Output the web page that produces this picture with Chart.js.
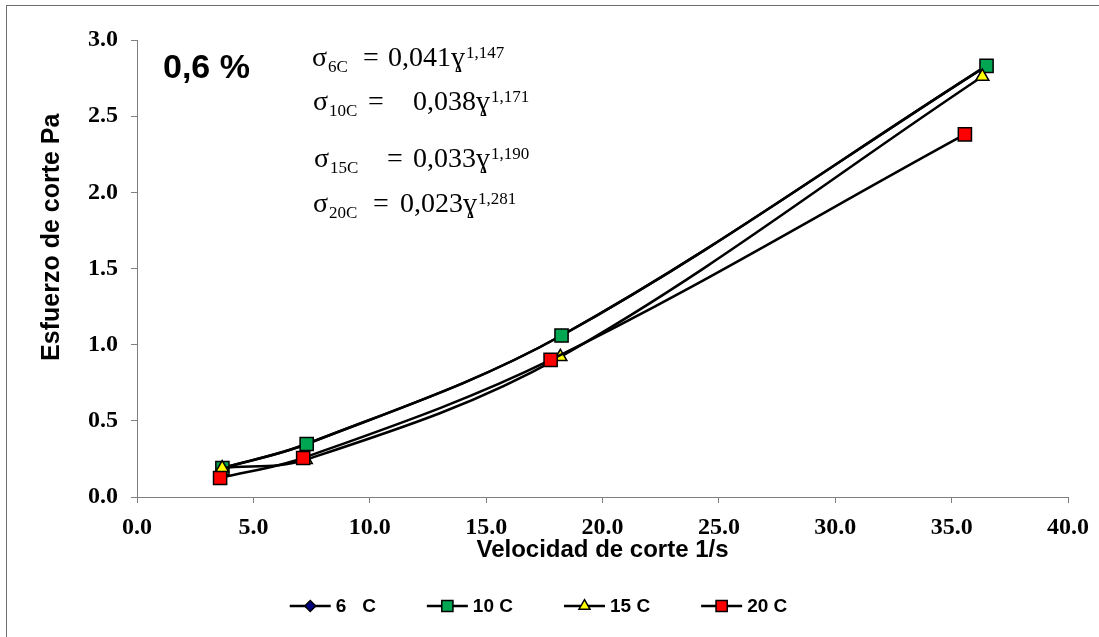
<!DOCTYPE html>
<html>
<head>
<meta charset="utf-8">
<script src="https://cdn.jsdelivr.net/npm/chart.js@4.4.1/dist/chart.umd.min.js"></script>
<style>
  html, body { margin: 0; padding: 0; background: #fff; }
  canvas { display: block; }
</style>
</head>
<body>
<canvas id="grafico" width="1099" height="637"></canvas>
<script>
// valores: velocidad de corte (1/s) y esfuerzo de corte (Pa)
const series = ['6   C', '10 C', '15 C', '20 C'];
const vel6  = [3.67, 7.29, 18.24, 36.5];
const esf6  = [0.19, 0.348, 1.06, 2.83];
const vel10 = [3.67, 7.29, 18.24, 36.5];
const esf10 = [0.19, 0.348, 1.06, 2.83];
const vel15 = [3.66, 7.25, 18.19, 36.32];
const esf15 = [0.19, 0.245, 0.92, 2.76];
const vel20 = [3.57, 7.14, 17.77, 35.57];
const esf20 = [0.125, 0.256, 0.90, 2.38];

const ticksX = [0, 5, 10, 15, 20, 25, 30, 35, 40];
const ticksY = [0, 0.5, 1, 1.5, 2, 2.5, 3];

// ecuaciones de ajuste (potencia)
const ecSub  = ['6C', '10C', '15C', '20C'];
const ecCoef = ['0,041', '0,038', '0,033', '0,023'];
const ecExp  = ['1,147', '1,171', '1,190', '1,281'];
const concentracion = '0,6 %';

const serif = '"Liberation Serif", "DejaVu Serif", serif';
const sans = '"Liberation Sans", Arial, sans-serif';

function serie(label, xs, ys, color, forma, radio, orden) {
  return {
    label: label,
    data: xs.map((x, i) => ({ x: x, y: ys[i] })),
    showLine: true,
    tension: 0.35,
    borderColor: '#000',
    borderWidth: 2.5,
    backgroundColor: color,
    pointStyle: forma,
    pointRadius: radio,
    pointHoverRadius: radio,
    pointBackgroundColor: color,
    pointBorderColor: '#000',
    pointBorderWidth: 1.5,
    order: orden
  };
}

function marcador(ctx, forma, cx, cy, r, color) {
  ctx.beginPath();
  if (forma === 'rect') {
    const s = r * Math.SQRT1_2;
    ctx.rect(cx - s, cy - s, 2 * s, 2 * s);
  } else if (forma === 'triangle') {
    for (let k = 0; k < 3; k++) {
      const a = k * 2 * Math.PI / 3;
      const px = cx + Math.sin(a) * r, py = cy - Math.cos(a) * r;
      k ? ctx.lineTo(px, py) : ctx.moveTo(px, py);
    }
  } else {
    ctx.moveTo(cx, cy - r); ctx.lineTo(cx + r, cy);
    ctx.lineTo(cx, cy + r); ctx.lineTo(cx - r, cy);
  }
  ctx.closePath();
  ctx.fillStyle = color;
  ctx.fill();
  ctx.lineWidth = 1.5;
  ctx.strokeStyle = '#000';
  ctx.stroke();
}

// marco exterior (solo se ven los bordes izquierdo y superior)
const marco = {
  id: 'marco',
  beforeDraw(chart) {
    const { ctx, width, height } = chart;
    ctx.save();
    ctx.fillStyle = '#fff';
    ctx.fillRect(0, 0, width, height);
    ctx.strokeStyle = '#6e6e6e';
    ctx.lineWidth = 1;
    ctx.strokeRect(6.5, 5.5, width + 10, height + 10);
    ctx.restore();
  }
};

// textos dentro del area: porcentaje y ecuaciones
const textos = {
  id: 'textos',
  afterDraw(chart) {
    const { ctx, chartArea } = chart;
    const L = chartArea.left, T = chartArea.top;
    ctx.save();
    ctx.fillStyle = '#000';
    ctx.textBaseline = 'alphabetic';
    ctx.font = 'bold 34px ' + sans;
    ctx.fillText(concentracion, L + 26, T + 38);

    const xs = [175, 176, 177, 176];
    const base = [26, 70, 127, 172];
    const xIgual = [226, 231, 250, 236];
    const xCoef = [251, 276, 276, 263];
    for (let i = 0; i < ecSub.length; i++) {
      const y = T + base[i];
      let x = L + xs[i];
      ctx.font = '28px ' + serif;
      ctx.fillText('σ', x, y);
      x += ctx.measureText('σ').width + 1;
      ctx.font = '17px ' + serif;
      ctx.fillText(ecSub[i], x, y + 6);
      ctx.font = '28px ' + serif;
      ctx.fillText('=', L + xIgual[i], y);
      const t = ecCoef[i] + 'ɣ';
      ctx.fillText(t, L + xCoef[i], y);
      const xe = L + xCoef[i] + ctx.measureText(t).width + 1;
      ctx.font = '17px ' + serif;
      ctx.fillText(ecExp[i], xe, y - 8);
    }
    ctx.restore();
  }
};

// leyenda con linea y marcador
const leyenda = {
  id: 'leyenda',
  afterDraw(chart) {
    const { ctx } = chart;
    const sets = chart.data.datasets;
    ctx.save();
    ctx.font = 'bold 19px ' + sans;
    const largo = 41, sep = 5, hueco = 51;
    const anchos = sets.map(ds => largo + sep + ctx.measureText(ds.label).width);
    const total = anchos.reduce((a, b) => a + b, 0) + hueco * (sets.length - 1);
    let x = chart.width / 2 - total / 2 - 11;
    const y = 606;
    sets.forEach((ds, i) => {
      ctx.beginPath();
      ctx.moveTo(x, y);
      ctx.lineTo(x + largo, y);
      ctx.lineWidth = 2.5;
      ctx.strokeStyle = '#000';
      ctx.stroke();
      const r = ds.pointStyle === 'rectRot' ? 5.5 : ds.pointRadius * 0.85;
      marcador(ctx, ds.pointStyle, x + largo / 2, y, r, ds.pointBackgroundColor);
      ctx.fillStyle = '#000';
      ctx.textBaseline = 'middle';
      ctx.fillText(ds.label, x + largo + sep, y + 1);
      x += anchos[i] + hueco;
    });
    ctx.restore();
  }
};

const ejeComun = {
  border: { display: true, color: '#7f7f7f', width: 1 },
  grid: { drawOnChartArea: false, drawTicks: true, tickLength: 6, tickColor: '#7f7f7f' }
};

new Chart(document.getElementById('grafico'), {
  type: 'scatter',
  data: {
    datasets: [
      serie(series[0], vel6, esf6, '#000080', 'rectRot', 6, 4),
      serie(series[1], vel10, esf10, '#00A651', 'rect', 9.3, 3),
      serie(series[2], vel15, esf15, '#FFFF00', 'triangle', 7.5, 2),
      serie(series[3], vel20, esf20, '#FF0000', 'rect', 9.3, 1)
    ]
  },
  options: {
    responsive: false,
    animation: false,
    devicePixelRatio: 1,
    layout: { padding: { left: 0, top: 40, right: 31, bottom: 70 } },
    plugins: {
      legend: { display: false },
      tooltip: { enabled: false }
    },
    scales: {
      x: {
        ...ejeComun,
        type: 'linear',
        min: ticksX[0],
        max: ticksX[ticksX.length - 1],
        afterBuildTicks: s => { s.ticks = ticksX.map(v => ({ value: v })); },
        afterFit: s => { s.height = 70; },
        ticks: {
          color: '#000',
          padding: 10,
          font: { family: serif, size: 24, weight: 'bold' },
          callback: v => Number(v).toFixed(1)
        },
        title: {
          display: true,
          text: 'Velocidad de corte 1/s',
          color: '#000',
          padding: { top: 0, bottom: 2 },
          font: { family: sans, size: 24, weight: 'bold' }
        }
      },
      y: {
        ...ejeComun,
        type: 'linear',
        min: ticksY[0],
        max: ticksY[ticksY.length - 1],
        afterBuildTicks: s => { s.ticks = ticksY.map(v => ({ value: v })); },
        afterFit: s => { s.width = 137; },
        ticks: {
          color: '#000',
          padding: 13,
          font: { family: serif, size: 24, weight: 'bold' },
          callback: v => Number(v).toFixed(1)
        },
        title: {
          display: true,
          text: '         Esfuerzo de corte Pa',
          color: '#000',
          padding: { top: 37, bottom: 0 },
          font: { family: sans, size: 25, weight: 'bold' }
        }
      }
    }
  },
  plugins: [marco, textos, leyenda]
});
</script>
</body>
</html>
